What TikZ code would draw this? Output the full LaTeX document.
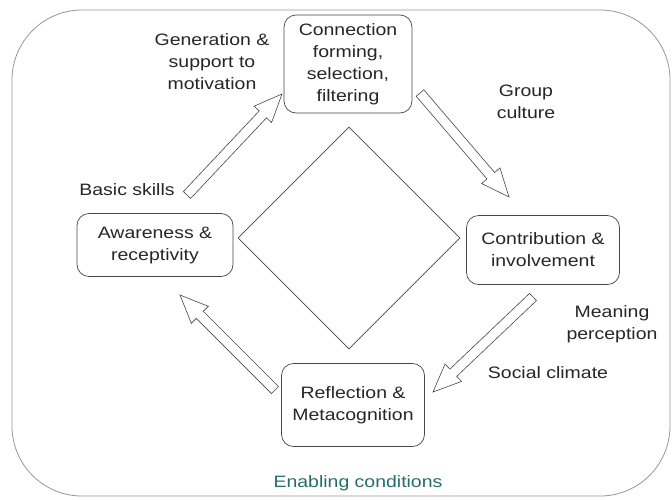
\documentclass[tikz,border=0pt]{standalone}
\usepackage{fontspec}
\setmainfont{Liberation Sans}[FakeStretch=1.18]
\usetikzlibrary{shapes.geometric, calc}

\definecolor{edgegray}{RGB}{70,70,70}
\definecolor{framegray}{RGB}{150,150,150}
\definecolor{enabling}{RGB}{38,108,108}
\newcommand{\diagfont}{\fontsize{16.5}{22}\selectfont}

% hollow block arrow from #1 to #2
\newcommand{\hollowarrow}[2]{%
    \coordinate (neck) at ($(#2)!28pt!(#1)$);
    \draw[blockarrow] ($(#1)!5pt!90:(#2)$) -- ($(neck)!5pt!90:(#2)$) -- ($(neck)!12pt!90:(#2)$) -- (#2)
        -- ($(neck)!12pt!-90:(#2)$) -- ($(neck)!5pt!-90:(#2)$) -- ($(#1)!5pt!-90:(#2)$) -- cycle;}

\begin{document}
\begin{tikzpicture}[x=1pt, y=-1pt,
        stage/.style={draw=edgegray, line width=0.7pt, rounded corners=12pt, align=center, inner sep=2pt, font=\diagfont, text=black!85},
        note/.style={align=center, inner sep=0pt, font=\diagfont, text=black!85},
        blockarrow/.style={draw=edgegray, fill=white, line width=0.6pt, line join=miter}
    ]
        \useasboundingbox (0,0) rectangle (672,499);

        % Frame
        \draw[framegray, line width=0.8pt, rounded corners=70pt] (12,10) rectangle (670,496);

        % Centre
        \node[diamond, draw=edgegray, line width=0.6pt, minimum width=222pt, minimum height=222pt, inner sep=0pt] (core) at (349,238) {};

        % Stages
        \node[stage, minimum width=128pt, minimum height=98pt] (connect) at (348,64) {Connection\\forming,\\selection,\\filtering};
        \node[stage, minimum width=153pt, minimum height=69pt] (contrib) at (543,250) {Contribution \&\\involvement};
        \node[stage, minimum width=143pt, minimum height=83pt] (reflect) at (353,405) {Reflection \&\\Metacognition};
        \node[stage, minimum width=156pt, minimum height=63pt] (aware) at (155,245) {Awareness \&\\receptivity};

        % Arrow ends
        \coordinate (a1s) at (187,195);
        \coordinate (a1e) at (282,94);
        \coordinate (a2s) at (420,93);
        \coordinate (a2e) at (509,197);
        \coordinate (a3s) at (533,297);
        \coordinate (a3e) at (433,392);
        \coordinate (a4s) at (275,390);
        \coordinate (a4e) at (180,295);

        % Arrows
        \hollowarrow{a1s}{a1e}
        \hollowarrow{a2s}{a2e}
        \hollowarrow{a3s}{a3e}
        \hollowarrow{a4s}{a4e}

        % Labels
        \node[note] (motiv) at (212,62) {Generation \&\\support to\\motivation};
        \node[note] (skills) at (127,190) {Basic skills};
        \node[note] (culture) at (526,102) {Group\\culture};
        \node[note] (meaning) at (612,324) {Meaning\\perception};
        \node[note] (climate) at (548,373) {Social climate};
        \node[note, text=enabling] (enable) at (358,483) {Enabling conditions};

    \end{tikzpicture}
\end{document}
